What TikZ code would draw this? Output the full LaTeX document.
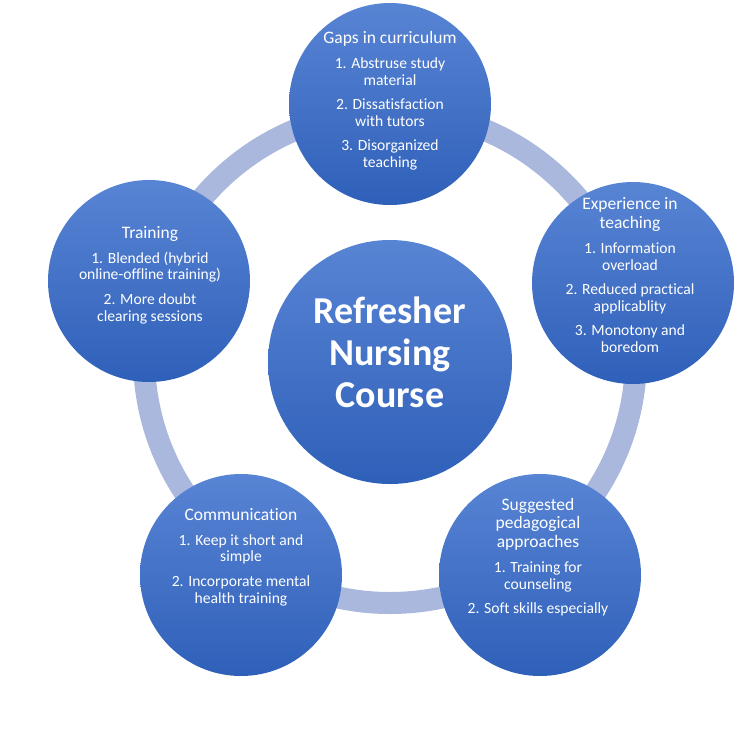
\documentclass[tikz,border=0pt]{standalone}
\usepackage{fontspec}
\setmainfont{Carlito}[Ligatures=NoCommon]
\usetikzlibrary{positioning}
\definecolor{ringblue}{RGB}{170,184,221}
\definecolor{bubbletop}{RGB}{88,132,212}
\definecolor{bubblebot}{RGB}{47,96,185}
\newcommand{\circtitle}[1]{{\fontsize{17.5}{19.5}\selectfont #1}}

\begin{document}
\begin{tikzpicture}[x=1pt,y=-1pt,
    bubble/.style={circle,minimum size=202pt,inner sep=0pt,draw=none,top color=bubbletop,bottom color=bubblebot},
    hubble/.style={bubble,minimum size=244pt},
    note/.style={text=white,align=center,font=\fontsize{15.6}{16.8}\selectfont},
    ring/.style={draw=ringblue,line width=22pt}]
  \useasboundingbox (0,0) rectangle (750,734);

  % the ring behind the circles
  \coordinate (ringc) at (390,357);
  \draw[ring] (ringc) circle[radius=246pt];

  % circles
  \node[hubble] (hub)   at (390,362) {};
  \node[bubble] (gaps)  at (390,104) {};
  \node[bubble] (exper) at (633,283) {};
  \node[bubble] (sugg)  at (540,575) {};
  \node[bubble] (comm)  at (241,575) {};
  \node[bubble] (train) at (149,281) {};

  % texts
  \node[note,font=\fontsize{38}{42}\selectfont\bfseries] (hubText) at (390,352)
    {Refresher\\Nursing\\Course};
  \node[note] (gapsText) at (390,101)
    {\circtitle{Gaps in curriculum}\\[8pt]
     1. Abstruse study\\material\\[7.5pt]
     2. Dissatisfaction\\with tutors\\[7.5pt]
     3. Disorganized\\teaching};
  \node[note] (experText) at (630,275)
    {\circtitle{Experience in}\\[2pt]\circtitle{teaching}\\[8pt]
     1. Information\\overload\\[7.5pt]
     2. Reduced practical\\applicablity\\[7.5pt]
     3. Monotony and\\boredom};
  \node[note] (suggText) at (538,557)
    {\circtitle{Suggested}\\[2pt]\circtitle{pedagogical}\\[2pt]\circtitle{approaches}\\[8pt]
     1. Training for\\counseling\\[7.5pt]
     2. Soft skills especially};
  \node[note] (commText) at (241,557)
    {\circtitle{Communication}\\[8pt]
     1. Keep it short and\\simple\\[7.5pt]
     2. Incorporate mental\\health training};
  \node[note] (trainText) at (150,275)
    {\circtitle{Training}\\[8pt]
     1. Blended (hybrid\\online-offline training)\\[7.5pt]
     2. More doubt\\clearing sessions};
\end{tikzpicture}
\end{document}
